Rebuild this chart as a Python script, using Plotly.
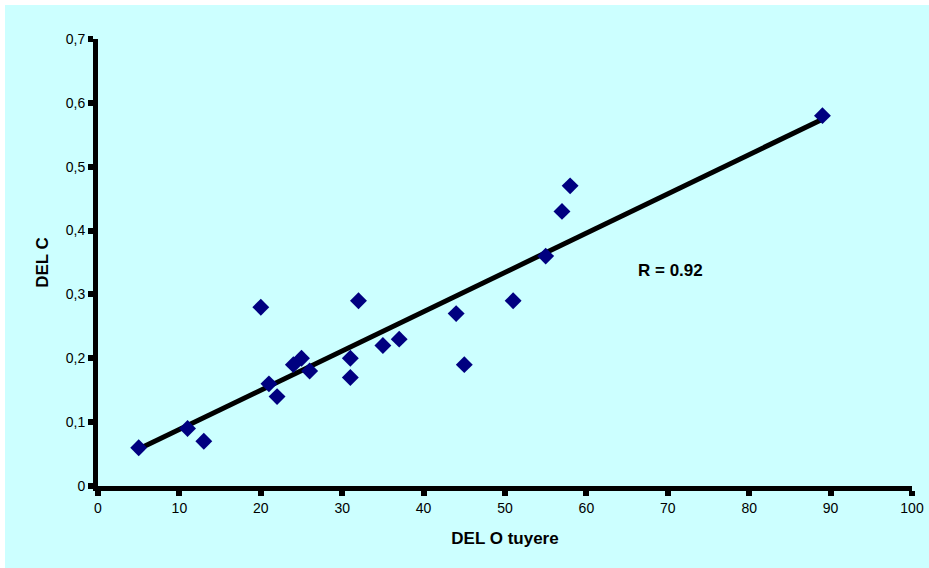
import numpy as np
import plotly.graph_objects as go

del_o = [5, 11, 13, 20, 21, 22, 24, 25, 26, 31, 31, 32, 35, 37, 44, 45, 51, 55, 57, 58, 89]
del_c = [0.06, 0.09, 0.07, 0.28, 0.16, 0.14, 0.19, 0.20, 0.18, 0.20, 0.17, 0.29, 0.22, 0.23,
         0.27, 0.19, 0.29, 0.36, 0.43, 0.47, 0.58]

x_ticks = [0, 10, 20, 30, 40, 50, 60, 70, 80, 90, 100]
y_ticks = [0, 0.1, 0.2, 0.3, 0.4, 0.5, 0.6, 0.7]

slope, intercept = np.polyfit(del_o, del_c, 1)
fit_x = [min(del_o), max(del_o)]
fit_y = [slope * v + intercept for v in fit_x]

BG = "#CCFFFF"
W, H = 929, 568
L, R, T, B = 98, 17, 39, 82
pw, ph = W - L - R, H - T - B

fig = go.Figure()
fig.add_trace(go.Scatter(x=fit_x, y=fit_y, mode="lines",
                         line=dict(color="black", width=5), showlegend=False, hoverinfo="skip"))
fig.add_trace(go.Scatter(x=del_o, y=del_c, mode="markers",
                         marker=dict(symbol="diamond", size=13, color="#000080",
                                     line=dict(width=0)),
                         showlegend=False))

fig.add_annotation(x=70.3, y=0.338, text="<b>R = 0.92</b>", showarrow=False,
                   font=dict(family="Liberation Sans, Arial", size=17, color="black"))

# thin white strips along the top and left edges
fig.add_shape(type="rect", xref="paper", yref="paper",
              x0=-L / pw - 0.05, x1=1.2, y0=(ph + T - 5) / ph, y1=(ph + T + 10) / ph,
              fillcolor="white", line=dict(width=0), layer="below")
fig.add_shape(type="rect", xref="paper", yref="paper",
              x0=-L / pw - 0.05, x1=(5 - L) / pw, y0=-(B + 10) / ph, y1=(ph + T + 10) / ph,
              fillcolor="white", line=dict(width=0), layer="below")

fig.update_layout(
    width=W, height=H,
    margin=dict(l=L, r=R, t=T, b=B, autoexpand=False),
    paper_bgcolor=BG,
    plot_bgcolor=BG,
    separators=", ",
    font=dict(family="Liberation Sans, Arial", size=14, color="black"),
    xaxis=dict(range=[0, 100], tickvals=x_ticks, ticks="outside", ticklen=5, tickwidth=6,
               tickcolor="black", showline=True, linewidth=5, linecolor="black",
               showgrid=False, zeroline=False, ticklabeloverflow="allow", automargin=False,
               title=dict(text="<b>DEL O tuyere</b>", font=dict(size=17), standoff=19),
               tickfont=dict(size=14)),
    yaxis=dict(range=[0, 0.7], tickvals=y_ticks, ticks="outside", ticklen=5, tickwidth=6,
               tickcolor="black", showline=True, linewidth=5, linecolor="black",
               showgrid=False, zeroline=False, ticklabeloverflow="allow", automargin=False,
               title=dict(text="<b>DEL C</b>", font=dict(size=17), standoff=14),
               tickfont=dict(size=14)),
)

fig.write_html("out.html", config={"displayModeBar": False},
               post_script="document.body.style.margin='0';document.body.style.overflow='hidden';"
                           "document.body.style.background='#CCFFFF';")
